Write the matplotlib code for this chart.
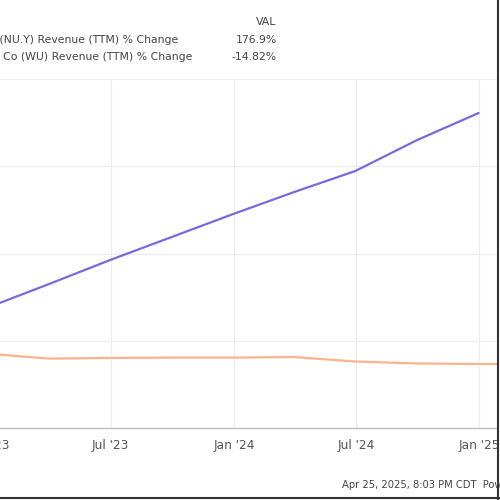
import numpy as np
import pandas as pd
import matplotlib
matplotlib.use("Agg")
import matplotlib.pyplot as plt
from matplotlib.lines import Line2D

# quarterly TTM revenue % change
dates = pd.to_datetime(["2022-12-31", "2023-03-31", "2023-06-30", "2023-09-30",
                        "2023-12-31", "2024-03-31", "2024-06-30", "2024-09-30",
                        "2024-12-31", "2025-03-31"])
nu_vals = [28.6, 46.3, 64.6, 82.2, 99.8, 116.6, 132.6, 156.2, 176.9, np.nan]
wu_vals = [-7.0, -10.7, -10.2, -9.9, -9.9, -9.5, -12.9, -14.4, -14.8, -14.82]

labels = ["Nu Holdings Ltd (NU.Y) Revenue (TTM) % Change",
          "Western Union Co (WU) Revenue (TTM) % Change"]
last_vals = ["176.9%", "-14.82%"]
colors = ["#7a68e0", "#f9b48d"]

tick_dates = pd.to_datetime(["2023-01-01", "2023-07-01", "2024-01-01",
                             "2024-07-01", "2025-01-01"])
tick_labels = ["Jan '23", "Jul '23", "Jan '24", "Jul '24", "Jan '25"]

W = 500.0
fig = plt.figure(figsize=(5, 5), dpi=100)
# plot area: x from -60 px (cut off) to 497 px, y from 79 to 428 px
left_px, right_px, top_px, bot_px = -60, 497, 79, 428
ax = fig.add_axes([left_px / W, 1 - bot_px / W,
                   (right_px - left_px) / W, (bot_px - top_px) / W])

px_per_day = 0.67
jan24 = pd.Timestamp("2024-01-01")
x0 = jan24 - pd.Timedelta(days=(234 - left_px) / px_per_day)
x1 = jan24 + pd.Timedelta(days=(right_px - 234) / px_per_day)

ax.plot(dates, nu_vals, color=colors[0], lw=1.6, solid_capstyle="round")
ax.plot(dates, wu_vals, color=colors[1], lw=1.6, solid_capstyle="round")

ymin, ymax = -63.7, 202.9
ax.set_xlim(x0, x1)
ax.set_ylim(ymin, ymax)
ax.set_yticks(np.linspace(ymin, ymax, 5))
ax.set_yticklabels([])
ax.set_xticks(tick_dates)
ax.set_xticklabels(tick_labels, fontsize=8.7, color="#555555")
ax.tick_params(axis="both", length=0, pad=8)
ax.grid(True, color="#ececec", lw=0.8)
for s in ["left", "right", "top"]:
    ax.spines[s].set_visible(False)
ax.spines["bottom"].set_color("#bbbbbb")
ax.spines["bottom"].set_linewidth(1.0)

# legend block
fig.text(276 / W, 1 - 22 / W, "VAL", fontsize=7.8, color="#444444",
         ha="right", va="center")
rows_y = [40, 57]
label_ends = [178, 192]
for lab, val, yy, xe in zip(labels, last_vals, rows_y, label_ends):
    fig.text(xe / W, 1 - yy / W, lab, fontsize=7.8, color="#444444",
             ha="right", va="center")
    fig.text(277 / W, 1 - yy / W, val, fontsize=7.8, color="#444444",
             ha="right", va="center")

fig.text(342 / W, 1 - 485 / W, "Apr 25, 2025, 8:03 PM CDT  Powered by YCHARTS",
         fontsize=7.2, color="#444444", ha="left", va="center")

# screenshot border on right and bottom
fig.add_artist(Line2D([498 / W, 498 / W], [0, 1], transform=fig.transFigure,
                      color="#333333", lw=1.5))
fig.add_artist(Line2D([0, 1], [1 - 498 / W, 1 - 498 / W], transform=fig.transFigure,
                      color="#333333", lw=1.5))

fig.savefig("out.png", dpi=100)
